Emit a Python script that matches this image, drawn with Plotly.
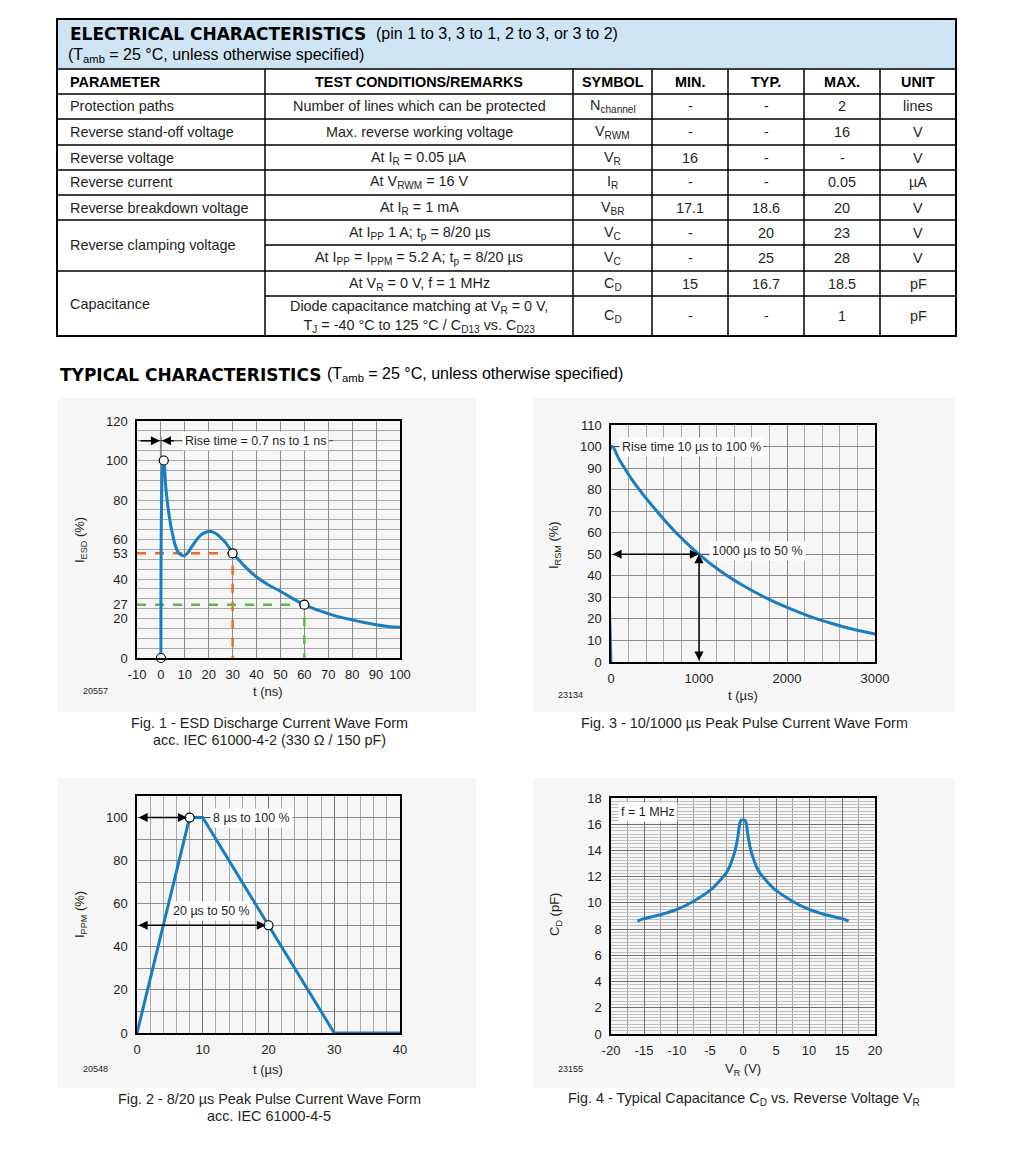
import plotly.graph_objects as go

W, H = 1024, 1152
OFF = 8  # the page body adds an 8 px margin around the figure

# ---------------- table data ----------------
param_names = ["Protection paths", "Reverse stand-off voltage", "Reverse voltage", "Reverse current",
               "Reverse breakdown voltage", "Reverse clamping voltage", "Capacitance"]
param_rows = [(0, 0), (1, 1), (2, 2), (3, 3), (4, 4), (5, 6), (7, 8)]  # first/last sub-row of each parameter
conditions = [
    "Number of lines which can be protected",
    "Max. reverse working voltage",
    "At I<sub>R</sub> = 0.05 µA",
    "At V<sub>RWM</sub> = 16 V",
    "At I<sub>R</sub> = 1 mA",
    "At I<sub>PP</sub> 1 A; t<sub>p</sub> = 8/20 µs",
    "At I<sub>PP</sub> = I<sub>PPM</sub> = 5.2 A; t<sub>p</sub> = 8/20 µs",
    "At V<sub>R</sub> = 0 V, f = 1 MHz",
    "Diode capacitance matching at V<sub>R</sub> = 0 V,<br>T<sub>J</sub> = -40 °C to 125 °C / C<sub>D13</sub> vs. C<sub>D23</sub>",
]
symbols = ["N<sub>channel</sub>", "V<sub>RWM</sub>", "V<sub>R</sub>", "I<sub>R</sub>", "V<sub>BR</sub>",
           "V<sub>C</sub>", "V<sub>C</sub>", "C<sub>D</sub>", "C<sub>D</sub>"]
min_vals = ["-", "-", "16", "-", "17.1", "-", "-", "15", "-"]
typ_vals = ["-", "-", "-", "-", "18.6", "20", "25", "16.7", "-"]
max_vals = ["2", "16", "-", "0.05", "20", "23", "28", "18.5", "1"]
units = ["lines", "V", "V", "µA", "V", "V", "V", "pF", "pF"]
headers = ["PARAMETER", "TEST CONDITIONS/REMARKS", "SYMBOL", "MIN.", "TYP.", "MAX.", "UNIT"]

# ---------------- chart data ----------------
# Fig. 1 - ESD discharge current
esd_t = [0, 0.8, 1.2, 1.6, 2, 3, 4, 5, 6, 7, 8, 9.5, 11, 13, 15, 17, 19, 21, 23, 25, 27, 29, 30, 32, 35,
         40, 45, 50, 55, 60, 65, 70, 75, 80, 85, 90, 95, 100]
esd_i = [0, 98, 100, 96, 87, 76, 68, 62, 57, 54, 52.5, 51.8, 53, 56.5, 60, 62.5, 63.8, 64, 63, 61, 58.5, 55, 53, 50.5, 46.5,
         41, 37, 33.8, 30.2, 27, 24.5, 22.5, 20.7, 19.3, 18, 16.8, 16, 15.6]
esd_pts_t = [0, 1.2, 30, 60]
esd_pts_i = [0, 100, 53, 27]
esd_levels = [53, 27]
esd_level_t = [30, 60]
esd_xticks = [-10, 0, 10, 20, 30, 40, 50, 60, 70, 80, 90, 100]
esd_yticks = [0, 20, 27, 40, 53, 60, 80, 100, 120]

# Fig. 3 - 10/1000 us pulse
rsm_t = [0, 10, 100, 250, 500, 750, 1000, 1250, 1500, 1750, 2000, 2250, 2500, 2750, 3000]
rsm_i = [0, 100, 93.5, 84, 71, 59.5, 50, 42, 35.5, 30, 25.3, 21.3, 18, 15.2, 13]

# Fig. 2 - 8/20 us pulse
ppm_t = [0, 8, 10, 30, 40]
ppm_i = [0, 100, 100, 0, 0]
ppm_pts_t = [8, 20]
ppm_pts_i = [100, 50]

# Fig. 4 - capacitance vs reverse voltage
cap_v = [-16, -15, -12.5, -10, -7.5, -5, -3.7, -2.4, -1.7, -1.1, -0.75, -0.5, -0.3, 0.3, 0.5, 0.75, 1.1, 1.7,
         2.4, 3.7, 5, 7.5, 10, 12.5, 15, 16]
cap_c = [8.62, 8.8, 9.1, 9.5, 10.13, 10.95, 11.6, 12.4, 13.2, 14.2, 15.15, 16.05, 16.3, 16.3, 16.05, 15.15, 14.2,
         13.2, 12.4, 11.6, 10.95, 10.13, 9.5, 9.1, 8.8, 8.62]
cap_xticks = [-20, -15, -10, -5, 0, 5, 10, 15, 20]

BLUE = "#1a7dc2"
TXT = "#231f20"
FONT = "Liberation Sans"


def px(x):
    return (x - OFF) / W


def py(y):
    return 1 - (y - OFF) / H


fig = go.Figure()
shapes = []
ann = []


def hline(x0, x1, y, w=1.5):
    shapes.append(dict(type="line", xref="paper", yref="paper", x0=px(x0), x1=px(x1), y0=py(y), y1=py(y),
                       line=dict(color="black", width=w)))


def vline(x, y0, y1, w=1.5):
    shapes.append(dict(type="line", xref="paper", yref="paper", x0=px(x), x1=px(x), y0=py(y0), y1=py(y1),
                       line=dict(color="black", width=w)))


def text(x, y, s, size=14.4, anchor="center", bold=False, family=FONT, color=TXT, angle=0):
    ann.append(dict(xref="paper", yref="paper", x=px(x), y=py(y), text=f"<b>{s}</b>" if bold else s,
                    showarrow=False, xanchor=anchor, yanchor="middle", textangle=angle,
                    font=dict(family=family, size=size, color=color)))


# ---------------- table ----------------
col_x = [57, 265, 573, 652, 728, 804, 880, 956]
row_y = [94, 119, 145, 170, 195, 220, 245, 271, 296, 336]
shapes.append(dict(type="rect", xref="paper", yref="paper", x0=px(57), x1=px(956), y0=py(19), y1=py(69),
                   fillcolor="#cfe4f2", line=dict(width=0), layer="below"))
shapes.append(dict(type="rect", xref="paper", yref="paper", x0=px(57), x1=px(956), y0=py(19), y1=py(336),
                   line=dict(color="black", width=2)))
hline(57, 956, 69)
merged_inner = {6, 8}
for i, y in enumerate(row_y[:-1]):
    if i in merged_inner:
        hline(265, 956, y)
    else:
        hline(57, 956, y)
for x in col_x[1:-1]:
    vline(x, 69, 336)

text(68, 34, "ELECTRICAL CHARACTERISTICS", size=17, anchor="left", bold=True, family="DejaVu Sans", color="black")
text(374, 34, "(pin 1 to 3, 3 to 1, 2 to 3, or 3 to 2)", size=16, anchor="left", color="black")
text(66, 55, "(T<sub>amb</sub> = 25 °C, unless otherwise specified)", size=16, anchor="left", color="black")

centers = [(col_x[i] + col_x[i + 1]) / 2 for i in range(len(col_x) - 1)]
for i, h in enumerate(headers):
    if i == 0:
        text(68, 81.5, h, anchor="left", bold=True, color="black")
    else:
        text(centers[i], 81.5, h, bold=True, color="black")

for name, (r0, r1) in zip(param_names, param_rows):
    text(68, (row_y[r0] + row_y[r1 + 1]) / 2, name, anchor="left")

for r in range(len(conditions)):
    yc = (row_y[r] + row_y[r + 1]) / 2
    text(centers[1], yc, conditions[r])
    text(centers[2], yc, symbols[r])
    text(centers[3], yc, min_vals[r])
    text(centers[4], yc, typ_vals[r])
    text(centers[5], yc, max_vals[r])
    text(centers[6], yc, units[r])

text(58, 375, "TYPICAL CHARACTERISTICS", size=17, anchor="left", bold=True, family="DejaVu Sans", color="black")
text(325, 375, "(T<sub>amb</sub> = 25 °C, unless otherwise specified)", size=16, anchor="left", color="black")

# faint panels behind figures
for x0, y0, x1, y1 in [(58, 398, 476, 712), (533, 398, 955, 712), (58, 778, 476, 1088), (533, 778, 955, 1088)]:
    shapes.append(dict(type="rect", xref="paper", yref="paper", x0=px(x0), x1=px(x1), y0=py(y0), y1=py(y1),
                       fillcolor="#f6f6f6", line=dict(width=0), layer="below"))

# ---------------- axes ----------------
frame = dict(showline=True, mirror=True, linecolor="black", linewidth=1.5, ticks="", zeroline=False,
             automargin=False, tickfont=dict(family=FONT, size=13, color=TXT), fixedrange=True)
xframe = dict(frame, ticklabelstandoff=4)
yframe = dict(frame, ticklabelstandoff=5)


def minor(d, col="#a8a8a8"):
    return dict(tickmode="linear", tick0=0, dtick=d, showgrid=True, gridcolor=col, gridwidth=1, ticks="")


layout_axes = dict(
    xaxis=dict(domain=[px(137), px(400)], anchor="y", range=[-10, 100], tickvals=esd_xticks,
               ticktext=[str(v) for v in esd_xticks], showgrid=True, gridcolor="#8a8a8a", **xframe),
    yaxis=dict(domain=[py(658), py(421)], anchor="x", range=[0, 120],
               tickvals=esd_yticks, showgrid=False, minor=minor(5), **yframe),
    xaxis2=dict(domain=[px(611), px(875)], anchor="y2", range=[0, 3000], tickmode="linear", tick0=0, dtick=1000,
                showgrid=True, gridcolor="#808080", minor=minor(200), **xframe),
    yaxis2=dict(domain=[py(662), py(425)], anchor="x2", range=[0, 110], tickmode="linear", tick0=0, dtick=10,
                showgrid=True, gridcolor="#8a8a8a", **yframe),
    xaxis3=dict(domain=[px(137), px(400)], anchor="y3", range=[0, 40], tickmode="linear", tick0=0, dtick=10,
                showgrid=True, gridcolor="#707070", minor=minor(2), **xframe),
    yaxis3=dict(domain=[py(1033), py(796)], anchor="x3", range=[0, 110], tickmode="linear", tick0=0, dtick=20,
                showgrid=True, gridcolor="#8a8a8a", minor=minor(10, "#8a8a8a"), **yframe),
    xaxis4=dict(domain=[px(611), px(875)], anchor="y4", range=[-20, 20], tickvals=cap_xticks,
                ticktext=[str(v) for v in cap_xticks], showgrid=True, gridcolor="#707070",
                minor=minor(2.5, "#a0a0a0"), **xframe),
    yaxis4=dict(domain=[py(1034), py(798)], anchor="x4", range=[0, 18], tickmode="linear", tick0=0, dtick=2,
                showgrid=True, gridcolor="#707070", minor=minor(0.25, "#c0c0c0"), **yframe),
)

# ---------------- traces ----------------
dash_col = {53: "#f26a21", 27: "#5cb848"}
for lvl, t in zip(esd_levels, esd_level_t):
    fig.add_trace(go.Scatter(x=[-10, t, t], y=[lvl, lvl, 0], xaxis="x", yaxis="y", mode="lines",
                             line=dict(color=dash_col[lvl], width=2.5, dash="dash"), hoverinfo="skip"))
fig.add_trace(go.Scatter(x=[0, 0], y=[100, 112], xaxis="x", yaxis="y", mode="lines",
                         line=dict(color="#8c8c8c", width=2), hoverinfo="skip"))
fig.add_trace(go.Scatter(x=[-9, 72], y=[110, 110], xaxis="x", yaxis="y", mode="lines",
                         line=dict(color="#444", width=1), hoverinfo="skip"))
fig.add_trace(go.Scatter(x=esd_t, y=esd_i, xaxis="x", yaxis="y", mode="lines", line_shape="spline",
                         line=dict(color=BLUE, width=3), cliponaxis=False))
fig.add_trace(go.Scatter(x=esd_pts_t, y=esd_pts_i, xaxis="x", yaxis="y", mode="markers", cliponaxis=False,
                         marker=dict(size=9, color="white", line=dict(color="black", width=1.2))))

fig.add_trace(go.Scatter(x=[10, 1760], y=[100, 100], xaxis="x2", yaxis="y2", mode="lines",
                         line=dict(color="#444", width=1), hoverinfo="skip"))
fig.add_trace(go.Scatter(x=[1000, 2200], y=[50, 50], xaxis="x2", yaxis="y2", mode="lines",
                         line=dict(color="#444", width=1), hoverinfo="skip"))
fig.add_trace(go.Scatter(x=rsm_t, y=rsm_i, xaxis="x2", yaxis="y2", mode="lines", line_shape="spline",
                         line=dict(color=BLUE, width=3), cliponaxis=False))

fig.add_trace(go.Scatter(x=[10, 23.7], y=[100, 100], xaxis="x3", yaxis="y3", mode="lines",
                         line=dict(color="#444", width=1), hoverinfo="skip"))
fig.add_trace(go.Scatter(x=ppm_t, y=ppm_i, xaxis="x3", yaxis="y3", mode="lines",
                         line=dict(color=BLUE, width=3), cliponaxis=False))
fig.add_trace(go.Scatter(x=ppm_pts_t, y=ppm_pts_i, xaxis="x3", yaxis="y3", mode="markers", cliponaxis=False,
                         marker=dict(size=9, color="white", line=dict(color="black", width=1.2))))

fig.add_trace(go.Scatter(x=cap_v, y=cap_c, xaxis="x4", yaxis="y4", mode="lines", line_shape="spline",
                         line=dict(color=BLUE, width=3, smoothing=0.6)))


# ---------------- arrows & labels inside plots ----------------
def arrow(xa, ya, xb, yb, ax_id, both=True):
    ann.append(dict(x=xb, y=yb, ax=xa, ay=ya, xref=ax_id[0], yref=ax_id[1], axref=ax_id[0], ayref=ax_id[1],
                    text="", showarrow=True, arrowhead=2, arrowsize=1.3, arrowwidth=1.4, arrowcolor="black",
                    arrowside="end+start" if both else "end", standoff=0, startstandoff=0))


def label(x, y, s, ax_id, size=12.5):
    ann.append(dict(x=x, y=y, xref=ax_id[0], yref=ax_id[1], text=s, showarrow=False, bgcolor="white",
                    borderpad=2, font=dict(family=FONT, size=size, color=TXT)))


arrow(-9, 110, -0.4, 110, ("x", "y"), both=False)
arrow(6, 110, 0.4, 110, ("x", "y"), both=False)
label(39.5, 110, "Rise time = 0.7 ns to 1 ns", ("x", "y"))

arrow(0, 50, 1000, 50, ("x2", "y2"))
arrow(1000, 0, 1000, 50, ("x2", "y2"))
label(920, 100, "Rise time 10 µs to 100 %", ("x2", "y2"))
label(1670, 51.5, "1000 µs to 50 %", ("x2", "y2"))

arrow(0, 100, 7.6, 100, ("x3", "y3"))
arrow(0, 50, 19.6, 50, ("x3", "y3"))
label(17.4, 100, "8 µs to 100 %", ("x3", "y3"))
label(11.4, 56.5, "20 µs to 50 %", ("x3", "y3"))

label(-14.4, 16.9, "f = 1 MHz", ("x4", "y4"))

# axis titles
text(80, 540, "I<sub>ESD</sub> (%)", size=13, angle=-90)
text(268, 691, "t (ns)", size=13)
text(555, 545, "I<sub>RSM</sub> (%)", size=13, angle=-90)
text(743, 695, "t (µs)", size=13)
text(80, 915, "I<sub>PPM</sub> (%)", size=13, angle=-90)
text(268, 1069, "t (µs)", size=13)
text(555, 915, "C<sub>D</sub> (pF)", size=13, angle=-90)
text(743, 1069, "V<sub>R</sub> (V)", size=13)

# figure ids
text(95, 691, "20557", size=9)
text(570, 695, "23134", size=9)
text(95, 1069, "20548", size=9)
text(570, 1069, "23155", size=9)

# captions
text(269, 723, "Fig. 1 - ESD Discharge Current Wave Form")
text(269, 740, "acc. IEC 61000-4-2 (330 Ω / 150 pF)")
text(744, 723, "Fig. 3 - 10/1000 µs Peak Pulse Current Wave Form")
text(269, 1099, "Fig. 2 - 8/20 µs Peak Pulse Current Wave Form")
text(269, 1116, "acc. IEC 61000-4-5")
text(744, 1099, "Fig. 4 - Typical Capacitance C<sub>D</sub> vs. Reverse Voltage V<sub>R</sub>")

fig.update_layout(
    width=W, height=H, autosize=False,
    margin=dict(l=0, r=0, t=0, b=0, pad=0, autoexpand=False),
    paper_bgcolor="white", plot_bgcolor="white",
    showlegend=False,
    font=dict(family=FONT, color=TXT),
    shapes=shapes, annotations=ann,
    **layout_axes,
)

fig.write_html("out.html", config={"displayModeBar": False})
